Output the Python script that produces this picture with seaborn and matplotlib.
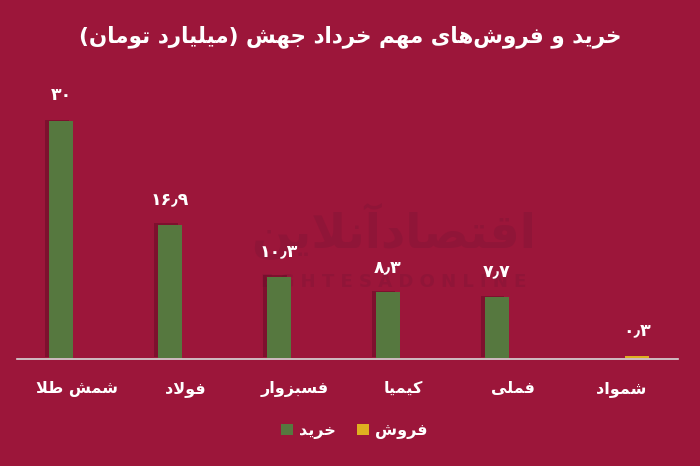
import matplotlib
matplotlib.use("Agg")
import matplotlib.pyplot as plt
import matplotlib.patheffects as pe
import numpy as np
import pandas as pd
import seaborn as sns

# data (billion toman)
categories = ['شمش طلا', 'فولاد', 'فسبزوار', 'کیمیا', 'فملی', 'شمواد']
buy = [30, 16.9, 10.3, 8.3, 7.7, np.nan]
sell = [np.nan, np.nan, np.nan, np.nan, np.nan, 0.3]
series = ['خرید', 'فروش']
title = 'خرید و فروش\u200cهای مهم خرداد جهش (میلیارد تومان)'

BG = '#9c163a'
GREEN = '#548235'
YELLOW = '#ffc000'
MARK = '#901538'

# --- minimal persian shaping (matplotlib has no text shaping) ---
FORMS = {  # isolated, final, initial, medial
    'ا': (0xFE8D, 0xFE8E), 'آ': (0xFE81, 0xFE82), 'د': (0xFEA9, 0xFEAA),
    'ر': (0xFEAD, 0xFEAE), 'ز': (0xFEAF, 0xFEB0), 'و': (0xFEED, 0xFEEE),
    'ب': (0xFE8F, 0xFE90, 0xFE91, 0xFE92), 'پ': (0xFB56, 0xFB57, 0xFB58, 0xFB59),
    'ت': (0xFE95, 0xFE96, 0xFE97, 0xFE98), 'ج': (0xFE9D, 0xFE9E, 0xFE9F, 0xFEA0),
    'خ': (0xFEA5, 0xFEA6, 0xFEA7, 0xFEA8), 'س': (0xFEB1, 0xFEB2, 0xFEB3, 0xFEB4),
    'ش': (0xFEB5, 0xFEB6, 0xFEB7, 0xFEB8), 'ص': (0xFEB9, 0xFEBA, 0xFEBB, 0xFEBC),
    'ط': (0xFEC1, 0xFEC2, 0xFEC3, 0xFEC4), 'ف': (0xFED1, 0xFED2, 0xFED3, 0xFED4),
    'ق': (0xFED5, 0xFED6, 0xFED7, 0xFED8), 'ک': (0xFB8E, 0xFB8F, 0xFB90, 0xFB91),
    'ل': (0xFEDD, 0xFEDE, 0xFEDF, 0xFEE0), 'م': (0xFEE1, 0xFEE2, 0xFEE3, 0xFEE4),
    'ن': (0xFEE5, 0xFEE6, 0xFEE7, 0xFEE8), 'ه': (0xFEE9, 0xFEEA, 0xFEEB, 0xFEEC),
    'ی': (0xFBFC, 0xFBFD, 0xFBFE, 0xFBFF),
    'LA': (0xFEFB, 0xFEFC),
}


def dual(c):
    return c in FORMS and len(FORMS[c]) == 4


def shape(text):
    chars = []
    i = 0
    while i < len(text):
        if text[i] == 'ل' and i + 1 < len(text) and text[i + 1] == 'ا':
            chars.append('LA')
            i += 2
        else:
            chars.append(text[i])
            i += 1
    out = []
    for i, c in enumerate(chars):
        if c not in FORMS:
            if c != '\u200c':
                out.append({'(': ')', ')': '('}.get(c, c))
            continue
        prev = chars[i - 1] if i > 0 else None
        nxt = chars[i + 1] if i + 1 < len(chars) else None
        jp = prev is not None and dual(prev)
        jn = dual(c) and nxt in FORMS
        f = FORMS[c]
        if jp and jn:
            cp = f[3]
        elif jp:
            cp = f[1]
        elif jn:
            cp = f[2]
        else:
            cp = f[0]
        out.append(chr(cp))
    return ''.join(reversed(out))


def fa_num(v):
    if v is None or np.isnan(v) or v == 0:
        return ''
    s = f'{v:g}'
    return s.translate(str.maketrans('0123456789.', '۰۱۲۳۴۵۶۷۸۹٫'))


df = pd.DataFrame({
    'category': categories * 2,
    'type': [series[0]] * len(categories) + [series[1]] * len(categories),
    'value': buy + sell,
})

plt.rcParams['font.family'] = ['DejaVu Sans']
fig = plt.figure(figsize=(7, 4.66), dpi=100, facecolor=BG)
ax = fig.add_axes([0.0243, 0.2296, 0.9443, 0.5987])
ax.patch.set_alpha(0)

sns.barplot(data=df, x='category', y='value', hue='type', hue_order=series,
            order=categories, palette=[GREEN, YELLOW], width=0.58, gap=0.25,
            errorbar=None, ax=ax, zorder=2)

# legend first, so the handles don't pick up the bar shadow
handles, labels = ax.get_legend_handles_labels()
ax.get_legend().remove()
leg = fig.legend(handles, [shape(l) for l in labels], loc='center',
                 bbox_to_anchor=(0.506, 1 - 431 / 466), ncol=2, frameon=False,
                 handlelength=0.75, handleheight=0.75, handletextpad=0.4,
                 columnspacing=1.3, fontsize=11.5)
for t in leg.get_texts():
    t.set_color('white')
    t.set_fontweight('bold')

shadow = [pe.SimplePatchShadow(offset=(-3, 1), shadow_rgbFace='#3a0515', alpha=0.3),
          pe.Normal()]
for bar in ax.patches:
    if bar.get_height() > 1:  # tiny bars get no visible shadow in the original
        bar.set_path_effects(shadow)

for cont in ax.containers:
    ax.bar_label(cont, fmt=fa_num, padding=12, color='white', fontsize=12.5,
                 fontweight='bold')

ax.set_xlim(-0.55, 5.52)
ax.set_ylim(-0.12, 35.2)
ax.set_xticks(range(len(categories)))
ax.set_xticklabels([shape(c) for c in categories], color='white',
                   fontsize=11.5, fontweight='bold')
ax.tick_params(axis='x', length=0, pad=16)
ax.set_yticks([])
ax.set_xlabel('')
ax.set_ylabel('')
for side in ['top', 'left', 'right']:
    ax.spines[side].set_visible(False)
ax.spines['bottom'].set_color('#d9d9d9')
ax.spines['bottom'].set_linewidth(1.2)
ax.spines['bottom'].set_zorder(1)  # bars sit on top of the axis line

# faint watermark
ax.text(0.57, 0.46, shape('اقتصادآنلاین'), transform=ax.transAxes,
        ha='center', va='center', fontsize=34, fontweight='bold',
        color=MARK, zorder=0.5)
ax.text(0.57, 0.275, 'E G H T E S A D O N L I N E', transform=ax.transAxes,
        ha='center', va='center', fontsize=13, fontweight='bold',
        color=MARK, zorder=0.5)

fig.text(0.5, 1 - 37 / 466, shape(title), ha='center', va='center',
         color='white', fontsize=15.5, fontweight='bold')

fig.savefig('out.png', dpi=100, facecolor=BG)
